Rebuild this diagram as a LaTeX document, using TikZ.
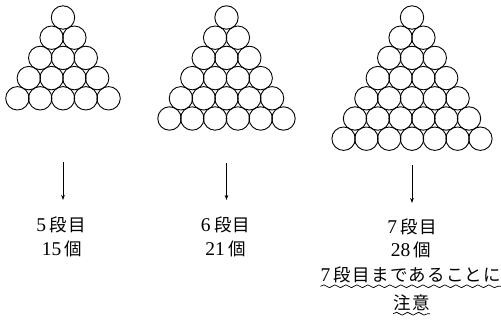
\documentclass[tikz,border=0pt]{standalone}
\usepackage{fontspec}
\setmainfont{Liberation Serif}
\newfontfamily\jp[LetterSpace=7]{Noto Sans CJK JP}
\usetikzlibrary{arrows.meta,decorations.pathmorphing}
\newcommand{\dg}[1]{{\fontsize{19.5}{20}\selectfont #1}}
\begin{document}
\begin{tikzpicture}[x=1pt,y=-1pt,
  ball/.style={draw,line width=0.9pt,circle,minimum size=23.4pt,inner sep=0pt},
  arr/.style={line width=0.8pt,-{Stealth[length=5pt,width=3.6pt]}},
  lbl/.style={inner sep=0pt,font=\fontsize{17.5}{20}\selectfont},
  wavy/.style={line width=0.7pt,decorate,decoration={snake,segment length=11pt,amplitude=1.4pt}}]
\useasboundingbox (0,0) rectangle (501,322);
% triangles
\foreach \cx/\n/\t in {63/5/a,226.5/6/b,412/7/c}{
  \foreach \r in {1,...,\n}{
    \foreach \k in {1,...,\r}{
      \node[ball] (\t-\r-\k) at ({\cx+(\k-(\r+1)/2)*22.8},{17.5+(\r-1)*20.2}) {};
    }
  }
}
% arrow endpoints
\coordinate (a1) at (63,162);   \coordinate (a2) at (63,200);
\coordinate (b1) at (226.5,163);\coordinate (b2) at (226.5,200);
\coordinate (c1) at (412,165);  \coordinate (c2) at (412,203);
\draw[arr] (a1) -- (a2);
\draw[arr] (b1) -- (b2);
\draw[arr] (c1) -- (c2);
% labels
\node[lbl] (la1) at (61,225) {\dg{5}\hspace{0.2em}{\jp 段目}};
\node[lbl] (la2) at (62,248.5) {\dg{15}\hspace{0.2em}{\jp 個}};
\node[lbl] (lb1) at (225.5,225) {\dg{6}\hspace{0.2em}{\jp 段目}};
\node[lbl] (lb2) at (225.5,248.5) {\dg{21}\hspace{0.2em}{\jp 個}};
\node[lbl] (lc1) at (412,226.5) {\dg{7}\hspace{0.2em}{\jp 段目}};
\node[lbl] (lc2) at (411,250) {\dg{28}\hspace{0.2em}{\jp 個}};
\node[lbl,anchor=west] (lc3) at (320.5,275) {\dg{7}\hspace{0.2em}{\jp 段目まであることに}};
\node[lbl] (lc4) at (411.5,302.5) {\jp 注意};
\coordinate (w1s) at ([yshift=-3pt]lc3.south west);
\coordinate (w1e) at ([yshift=-3pt]lc3.south east);
\coordinate (w2s) at ([yshift=-3pt]lc4.south west);
\coordinate (w2e) at ([yshift=-3pt]lc4.south east);
\draw[wavy] (w1s) -- (w1e);
\draw[wavy] (w2s) -- (w2e);
\end{tikzpicture}
\end{document}
